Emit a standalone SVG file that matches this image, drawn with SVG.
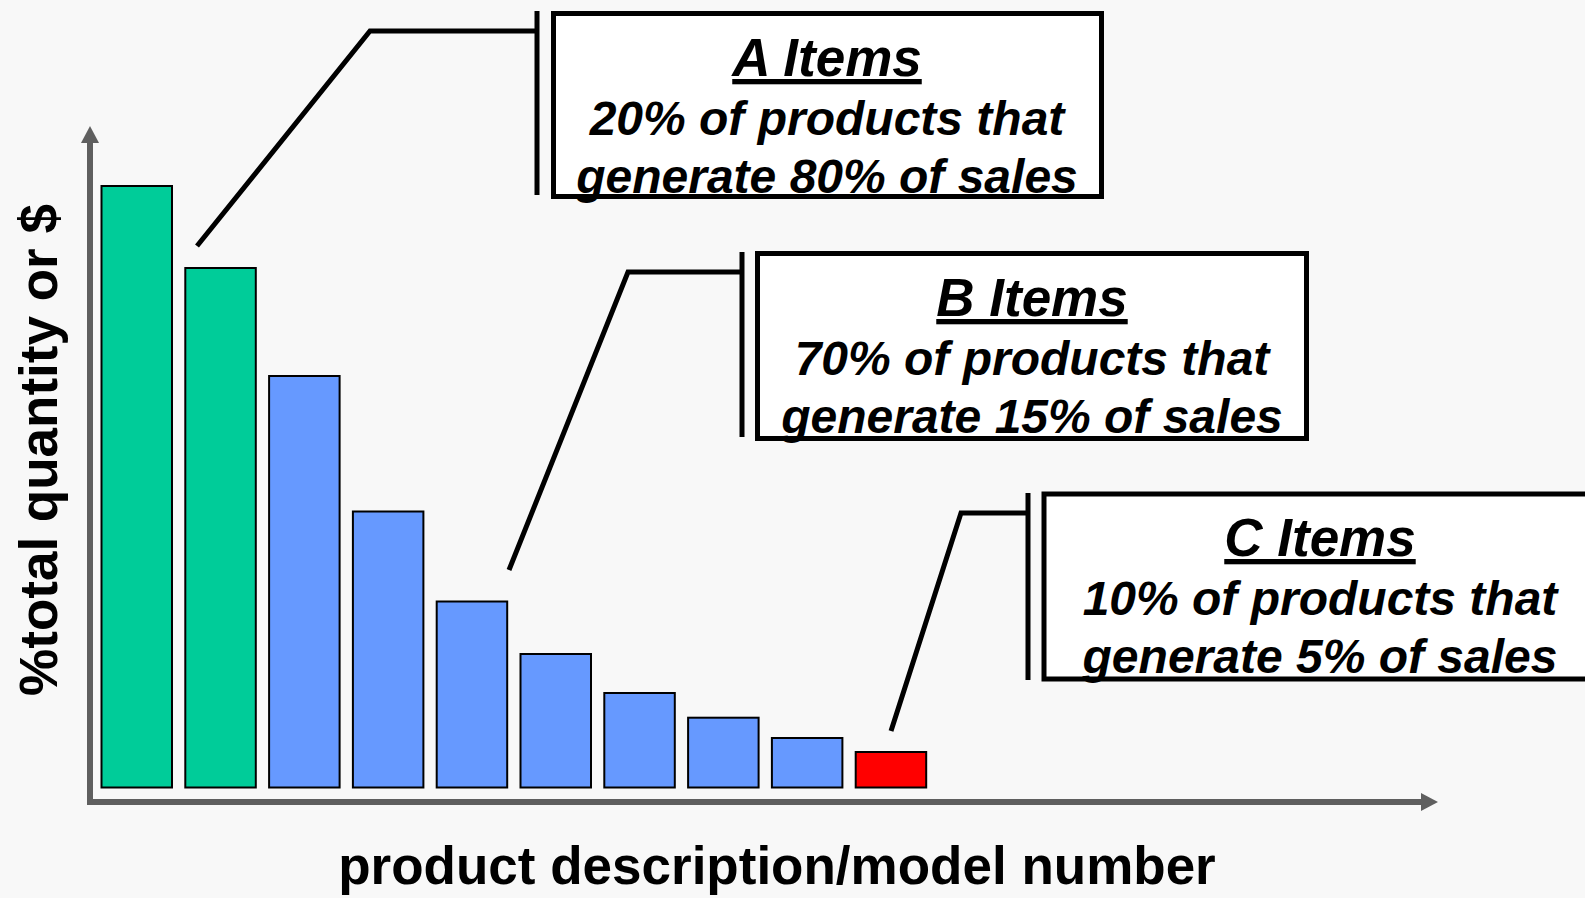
<svg xmlns="http://www.w3.org/2000/svg" width="1585" height="898" viewBox="0 0 1585 898">
<style>
.bar{stroke:#000;stroke-width:2}
.g{fill:#00CC99}.b{fill:#6699FF}.r{fill:#FF0000}
.axis{stroke:#5f5f5f;stroke-width:6;fill:none}
.lead{stroke:#000;stroke-width:5;fill:none;stroke-linejoin:miter}
.box{fill:#fff;stroke:#000;stroke-width:5}
.t{font-family:"Liberation Sans",Arial,sans-serif;font-weight:bold;font-style:italic;fill:#000;text-anchor:middle}
.ttl{font-size:53px;text-decoration:underline}
.body{font-size:48px}
.lab{font-family:"Liberation Sans",Arial,sans-serif;font-weight:bold;font-size:53px;fill:#000;text-anchor:middle}
</style>
<rect width="1585" height="898" fill="#f8f8f8"/>
<g id="axes">
<line class="axis" x1="90" y1="140" x2="90" y2="805"/>
<polygon points="90,126 81,143 99,143" fill="#5f5f5f"/>
<line class="axis" x1="87" y1="802" x2="1423" y2="802"/>
<polygon points="1438,802 1421,793 1421,811" fill="#5f5f5f"/>
</g>
<g id="bars">
<rect class="bar g" x="101.5" y="186" width="70.5" height="601.5"/>
<rect class="bar g" x="185.3" y="268" width="70.5" height="519.5"/>
<rect class="bar b" x="269.1" y="376" width="70.5" height="411.5"/>
<rect class="bar b" x="352.9" y="511.5" width="70.5" height="276"/>
<rect class="bar b" x="436.7" y="601.5" width="70.5" height="186"/>
<rect class="bar b" x="520.5" y="654" width="70.5" height="133.5"/>
<rect class="bar b" x="604.3" y="693" width="70.5" height="94.5"/>
<rect class="bar b" x="688.1" y="717.7" width="70.5" height="69.8"/>
<rect class="bar b" x="771.9" y="738" width="70.5" height="49.5"/>
<rect class="bar r" x="855.7" y="752" width="70.5" height="35.5"/>
</g>
<g id="connectors">
<polyline class="lead" points="197,246 370,31 537,31"/>
<line class="lead" x1="537" y1="11" x2="537" y2="195"/>
<polyline class="lead" points="509,570 628,272 742,272"/>
<line class="lead" x1="742" y1="252" x2="742" y2="437"/>
<polyline class="lead" points="891,731 961,513 1028,513"/>
<line class="lead" x1="1028" y1="493" x2="1028" y2="680"/>
</g>
<g id="nodeA">
<rect class="box" x="553.5" y="13.5" width="548" height="183"/>
<text class="t ttl" x="827" y="76">A Items</text>
<text class="t body" x="827" y="135">20% of products that</text>
<text class="t body" x="827" y="193">generate 80% of sales</text>
</g>
<g id="nodeB">
<rect class="box" x="757.5" y="253.5" width="549" height="185"/>
<text class="t ttl" x="1032" y="316">B Items</text>
<text class="t body" x="1032" y="375">70% of products that</text>
<text class="t body" x="1032" y="433">generate 15% of sales</text>
</g>
<g id="nodeC">
<rect class="box" x="1044" y="494" width="549" height="185"/>
<text class="t ttl" x="1320" y="556">C Items</text>
<text class="t body" x="1320" y="615">10% of products that</text>
<text class="t body" x="1320" y="673">generate 5% of sales</text>
</g>
<g id="labels">
<text class="lab" x="777" y="884">product description/model number</text>
<text class="lab" transform="translate(57,450) rotate(-90)">%total quantity or $</text>
</g>
</svg>
